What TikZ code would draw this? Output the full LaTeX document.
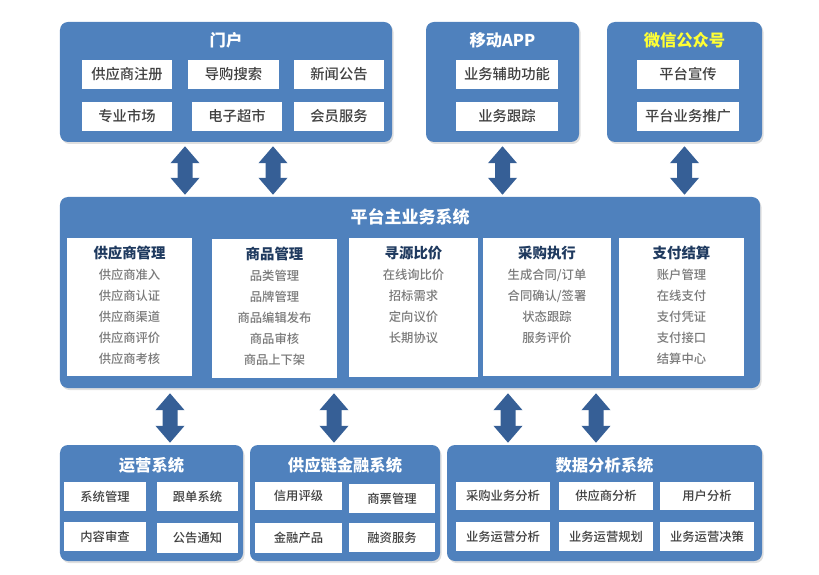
\documentclass[tikz,border=0pt]{standalone}
\usepackage{fontspec}
\setmainfont{Noto Sans CJK SC}
\newfontfamily\medfont{Noto Sans CJK SC Medium}
\usetikzlibrary{arrows.meta,shadows}
\definecolor{panelblue}{HTML}{4F81BD}
\definecolor{arrowblue}{HTML}{365F96}
\definecolor{headnavy}{HTML}{1F3A5F}
\definecolor{itemgray}{HTML}{7A7A7A}
\definecolor{boxtext}{HTML}{404040}
\definecolor{wxyellow}{HTML}{FFFF33}
\begin{document}
\begin{tikzpicture}[x=1bp,y=-1bp,
  panel/.style={fill=panelblue,draw=none,rounded corners=8bp,inner sep=0pt,
    drop shadow={opacity=0.25,shadow xshift=1.5bp,shadow yshift=-2bp}},
  ptitle/.style={text=white,font=\fontsize{16.3bp}{18bp}\selectfont\bfseries,inner sep=0pt},
  wbox/.style={fill=white,draw=none,inner sep=0pt,minimum height=29bp,text=boxtext},
  tbox/.style={wbox,font=\fontsize{14.3bp}{16bp}\selectfont\medfont},
  sbox/.style={wbox,font=\fontsize{12.3bp}{14bp}\selectfont\medfont},
  colbox/.style={fill=white,draw=none,inner sep=0pt,minimum width=125bp,minimum height=138bp},
  coltext/.style={anchor=north,align=center,text=itemgray,inner sep=0pt,
    font=\fontsize{12.3bp}{21bp}\selectfont\medfont},
  bigarrow/.style={draw=arrowblue,line width=15bp,
    {Triangle[width=28bp,length=17bp]}-{Triangle[width=28bp,length=17bp]}}
]
\useasboundingbox (0,0) rectangle (819,575);

% ---------- top panels ----------
\node[panel,minimum width=332bp,minimum height=120bp] (portal) at (226,82) {};
\node[ptitle] (portalT) at (226,40) {门户};
\node[tbox,minimum width=90bp] (p1) at (127,74.5) {供应商注册};
\node[tbox,minimum width=91bp] (p2) at (233.5,74.5) {导购搜索};
\node[tbox,minimum width=90bp] (p3) at (339,74.5) {新闻公告};
\node[tbox,minimum width=90bp] (p4) at (127,116.5) {专业市场};
\node[tbox,minimum width=90bp] (p5) at (237,116.5) {电子超市};
\node[tbox,minimum width=90bp] (p6) at (339,116.5) {会员服务};

\node[panel,minimum width=153bp,minimum height=120bp] (mobile) at (502.5,82) {};
\node[ptitle] (mobileT) at (502.5,40) {移动APP};
\node[tbox,minimum width=102bp] (m1) at (507,74.5) {业务辅助功能};
\node[tbox,minimum width=102bp] (m2) at (507,116.5) {业务跟踪};

\node[panel,minimum width=155bp,minimum height=120bp] (wechat) at (684.5,82) {};
\node[ptitle,text=wxyellow] (wechatT) at (684.5,40) {微信公众号};
\node[tbox,minimum width=102bp] (w1) at (688,74.5) {平台宣传};
\node[tbox,minimum width=102bp] (w2) at (688,116.5) {平台业务推广};

% ---------- main panel ----------
\node[panel,minimum width=700bp,minimum height=191bp] (main) at (410,292.5) {};
\node[ptitle,font=\fontsize{17bp}{19bp}\selectfont\bfseries] (mainT) at (410,217) {平台主业务系统};

\node[colbox] (c1) at (129.5,307) {};
\node[colbox] (c2) at (274.5,308.5) {};
\node[colbox,minimum width=129bp] (c3) at (413.5,307.5) {};
\node[colbox,minimum width=128bp] (c4) at (547,307) {};
\node[colbox] (c5) at (681.5,307) {};

\newcommand{\colhead}[1]{{\fontsize{14.4bp}{21bp}\selectfont\bfseries\color{headnavy}#1}}
\node[coltext] (c1t) at ([yshift=-8bp]c1.north) {\colhead{供应商管理}\\供应商准入\\供应商认证\\供应商渠道\\供应商评价\\供应商考核};
\node[coltext] (c2t) at ([yshift=-8bp]c2.north) {\colhead{商品管理}\\品类管理\\品牌管理\\商品编辑发布\\商品审核\\商品上下架};
\node[coltext] (c3t) at ([yshift=-8bp]c3.north) {\colhead{寻源比价}\\在线询比价\\招标需求\\定向议价\\长期协议};
\node[coltext] (c4t) at ([yshift=-8bp]c4.north) {\colhead{采购执行}\\生成合同/订单\\合同确认/签署\\状态跟踪\\服务评价};
\node[coltext] (c5t) at ([yshift=-8bp]c5.north) {\colhead{支付结算}\\账户管理\\在线支付\\支付凭证\\支付接口\\结算中心};

% ---------- bottom panels ----------
\node[panel,minimum width=183bp,minimum height=116bp] (ops) at (151.5,503) {};
\node[ptitle] (opsT) at (151.5,465) {运营系统};
\node[sbox,minimum width=82bp] (o1) at (105,496.5) {系统管理};
\node[sbox,minimum width=81bp] (o2) at (197.5,496.5) {跟单系统};
\node[sbox,minimum width=82bp] (o3) at (105,536.5) {内容审查};
\node[sbox,minimum width=81bp,minimum height=30bp] (o4) at (197.5,538) {公告通知};

\node[panel,minimum width=190bp,minimum height=116bp] (scf) at (345,503) {};
\node[ptitle] (scfT) at (345,465) {供应链金融系统};
\node[sbox,minimum width=87bp,minimum height=28bp] (f1) at (298.5,496) {信用评级};
\node[sbox,minimum width=86bp] (f2) at (392,498.5) {商票管理};
\node[sbox,minimum width=87bp,minimum height=30bp] (f3) at (298.5,538) {金融产品};
\node[sbox,minimum width=86bp] (f4) at (392,537.5) {融资服务};

\node[panel,minimum width=315bp,minimum height=116bp] (data) at (604.5,503) {};
\node[ptitle] (dataT) at (604.5,465) {数据分析系统};
\node[sbox,minimum width=94bp,minimum height=28bp] (d1) at (503,496) {采购业务分析};
\node[sbox,minimum width=94bp,minimum height=28bp] (d2) at (606,496) {供应商分析};
\node[sbox,minimum width=94bp,minimum height=28bp] (d3) at (707,496) {用户分析};
\node[sbox,minimum width=94bp] (d4) at (503,536.5) {业务运营分析};
\node[sbox,minimum width=94bp] (d5) at (606,536.5) {业务运营规划};
\node[sbox,minimum width=94bp] (d6) at (707,536.5) {业务运营决策};

% ---------- connectors ----------
\draw[bigarrow] ([xshift=-41bp,yshift=-4bp]portal.south) -- ([xshift=-225bp,yshift=2bp]main.north);
\draw[bigarrow] ([xshift=47bp,yshift=-4bp]portal.south) -- ([xshift=-137bp,yshift=2bp]main.north);
\draw[bigarrow] ([xshift=0bp,yshift=-4bp]mobile.south) -- ([xshift=92.5bp,yshift=2bp]main.north);
\draw[bigarrow] ([xshift=0bp,yshift=-4bp]wechat.south) -- ([xshift=274.5bp,yshift=2bp]main.north);

\draw[bigarrow] ([xshift=-240bp,yshift=-5bp]main.south) -- ([xshift=18.5bp,yshift=2bp]ops.north);
\draw[bigarrow] ([xshift=-76bp,yshift=-5bp]main.south) -- ([xshift=-11bp,yshift=2bp]scf.north);
\draw[bigarrow] ([xshift=98bp,yshift=-5bp]main.south) -- ([xshift=-96.5bp,yshift=2bp]data.north);
\draw[bigarrow] ([xshift=186bp,yshift=-5bp]main.south) -- ([xshift=-8.5bp,yshift=2bp]data.north);
\end{tikzpicture}
\end{document}
